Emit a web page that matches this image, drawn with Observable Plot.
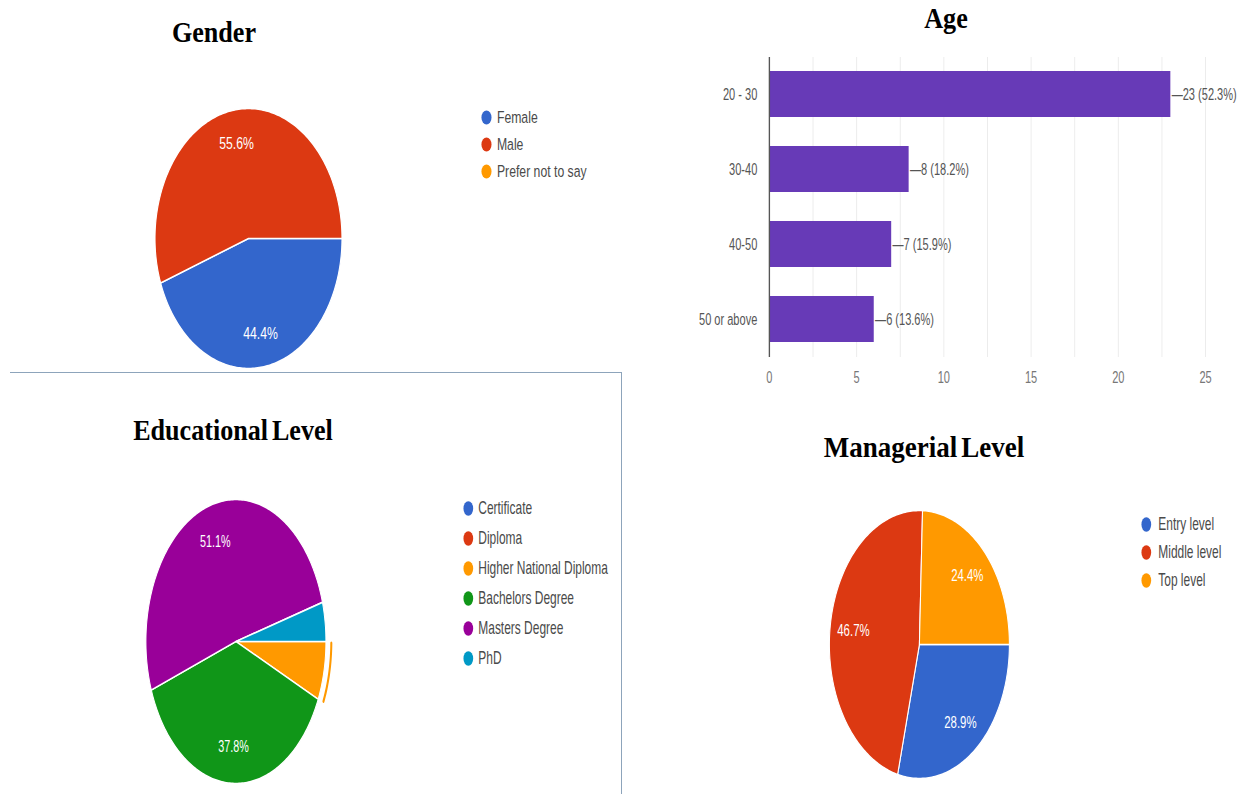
<!DOCTYPE html>
<html><head><meta charset="utf-8">
<script src="https://cdn.jsdelivr.net/npm/d3@7"></script>
<script src="https://cdn.jsdelivr.net/npm/@observablehq/plot@0.6"></script>
<style>
html,body{margin:0;padding:0;background:#fff;}
#root{position:relative;width:1238px;height:794px;overflow:hidden;background:#fff;}
.panel{position:absolute;transform-origin:0 0;}
.title{position:absolute;font-family:"Liberation Serif","Times New Roman",serif;font-weight:bold;font-size:30px;line-height:1;white-space:nowrap;color:#000;transform-origin:50% 0;}
.box{position:absolute;left:10px;top:372px;width:611px;height:440px;border-top:1.5px solid #8da4bb;border-right:1.5px solid #8da4bb;}
.age svg [aria-label^="x-axis"] text{fill:#777;}
.age svg [aria-label^="y-axis"] text{fill:#555;}
</style></head><body><div id="root"></div>
<script>
// ---------- data ----------
const genderCategories = ["Female", "Male", "Prefer not to say"];
const genderCounts = [20, 25, 0];
const genderColors = ["#3366cc", "#dc3912", "#ff9900"];

const ageGroups = ["20 - 30", "30-40", "40-50", "50 or above"];
const ageCounts = [23, 8, 7, 6];
const agePercentLabels = ["52.3%", "18.2%", "15.9%", "13.6%"];
const ageTicks = [0, 5, 10, 15, 20, 25];
const ageGridTicks = [0, 2.5, 5, 7.5, 10, 12.5, 15, 17.5, 20, 22.5, 25];

const eduCategories = ["Certificate", "Diploma", "Higher National Diploma", "Bachelors Degree", "Masters Degree", "PhD"];
const eduCounts = [0, 0, 3, 17, 23, 2];
const eduColors = ["#3366cc", "#dc3912", "#ff9900", "#109618", "#990099", "#0099c6"];

const mgmtCategories = ["Entry level", "Middle level", "Top level"];
const mgmtCounts = [13, 21, 11];
const mgmtColors = ["#3366cc", "#dc3912", "#ff9900"];

// ---------- helpers ----------
const root = document.getElementById("root");
const SANS = '"Liberation Sans", Arial, Helvetica, sans-serif';

function place(node, left, top, sx, cls) {
  const div = document.createElement("div");
  div.className = "panel" + (cls ? " " + cls : "");
  div.style.left = left + "px";
  div.style.top = top + "px";
  div.style.transform = `scaleX(${sx})`;
  div.appendChild(node);
  root.appendChild(div);
  return div;
}

function addTitle(text, cx, top, sx, extra) {
  const d = document.createElement("div");
  d.className = "title";
  d.textContent = text;
  d.style.left = cx + "px";
  d.style.top = top + "px";
  d.style.transform = `translateX(-50%) scaleX(${sx})`;
  if (extra) Object.assign(d.style, extra);
  root.appendChild(d);
}

function slicesOf(cats, vals) {
  const total = d3.sum(vals);
  let a = Math.PI / 2; // first slice starts at 3 o'clock, clockwise
  return cats.map((c, i) => {
    const a0 = a;
    a += (vals[i] / total) * 2 * Math.PI;
    return {cat: c, value: vals[i], pct: vals[i] / total, a0, a1: a};
  });
}

function arcPoints(a0, a1, r, cat) {
  const n = Math.max(2, Math.ceil((a1 - a0) / (Math.PI / 180)));
  const pts = [];
  for (let k = 0; k <= n; ++k) {
    const t = a0 + (a1 - a0) * k / n;
    pts.push({cat, x: r * Math.sin(t), y: r * Math.cos(t)});
  }
  return pts;
}

function piePlot(cats, vals, colors, R, highlightCat) {
  const m = 12;
  const slices = slicesOf(cats, vals);
  const pts = [];
  for (const s of slices) {
    if (s.value <= 0) continue;
    pts.push({cat: s.cat, x: 0, y: 0});
    pts.push(...arcPoints(s.a0, s.a1, 1, s.cat));
    pts.push({cat: s.cat, x: 0, y: 0});
  }
  const marks = [
    Plot.line(pts, {x: "x", y: "y", z: "cat", fill: "cat", stroke: "white", strokeWidth: 1.6, curve: "linear"})
  ];
  if (highlightCat) {
    const h = slices.find(s => s.cat === highlightCat);
    marks.push(Plot.line(arcPoints(h.a0 + 0.01, h.a1 - 0.01, 1.06, h.cat),
      {x: "x", y: "y", stroke: colors[cats.indexOf(h.cat)], strokeWidth: 3.2, curve: "linear"}));
  }
  marks.push(Plot.text(slices.filter(s => s.pct >= 0.1), {
    x: s => 0.74 * Math.sin((s.a0 + s.a1) / 2),
    y: s => 0.74 * Math.cos((s.a0 + s.a1) / 2),
    text: s => (s.pct * 100).toFixed(1) + "%",
    fill: "white", fontSize: 17
  }));
  return Plot.plot({
    width: 2 * R + 2 * m, height: 2 * R + 2 * m, margin: 0,
    x: {domain: [-1, 1], range: [m, m + 2 * R], axis: null},
    y: {domain: [-1, 1], range: [m + 2 * R, m], axis: null},
    color: {domain: cats, range: colors},
    style: {background: "transparent", maxWidth: "none", overflow: "visible", fontFamily: SANS},
    marks
  });
}

function legendPlot(cats, colors, o) {
  return Plot.plot({
    width: o.width, height: o.height, margin: 0,
    x: {domain: [0, 1], range: [0, o.width], axis: null},
    y: {type: "point", domain: cats, range: [o.y0, o.y1], padding: 0, axis: null},
    color: {domain: cats, range: colors},
    style: {background: "transparent", maxWidth: "none", overflow: "visible", fontFamily: SANS},
    marks: [
      Plot.dot(cats, {x: () => 0, y: d => d, fill: d => d, r: o.r, dx: o.dotX}),
      Plot.text(cats, {x: () => 0, y: d => d, text: d => d, textAnchor: "start", dx: o.textX, fill: "#4a4a4a", fontSize: o.fontSize})
    ]
  });
}

// ---------- frame box around the Educational Level panel ----------
const box = document.createElement("div");
box.className = "box";
root.appendChild(box);

// ---------- titles ----------
addTitle("Gender", 214, 17, 0.87);
addTitle("Age", 946, 4, 0.9, {fontSize: "29px"});
addTitle("Educational Level", 233, 415, 0.87, {wordSpacing: "-3px"});
addTitle("Managerial Level", 924, 432, 0.9, {wordSpacing: "-3px"});

// ---------- Gender ----------
{
  const R = 130, c = 93.5 / 130;
  place(piePlot(genderCategories, genderCounts, genderColors, R), 248.5 - (R + 12) * c, 237.5 - R - 12, c);
  const lc = 0.72;
  place(legendPlot(genderCategories, genderColors, {width: 180, height: 85, y0: 12, y1: 66, r: 7, dotX: 8.5, textX: 23, fontSize: 17}), 480, 105, lc);
}

// ---------- Educational Level ----------
{
  const R = 142, c = 90 / 142;
  place(piePlot(eduCategories, eduCounts, eduColors, R, "Higher National Diploma"), 236 - (R + 12) * c, 640.5 - R - 12, c);
  const lc = 0.665;
  place(legendPlot(eduCategories, eduColors, {width: 225, height: 180, y0: 13, y1: 163, r: 7.3, dotX: 12, textX: 27, fontSize: 18}), 460, 495, lc);
}

// ---------- Managerial Level ----------
{
  const R = 134, c = 90 / 134;
  place(piePlot(mgmtCategories, mgmtCounts, mgmtColors, R), 919 - (R + 12) * c, 644 - R - 12, c);
  const lc = 0.665;
  place(legendPlot(mgmtCategories, mgmtColors, {width: 145, height: 90, y0: 18, y1: 75, r: 7.3, dotX: 15, textX: 33, fontSize: 18}), 1136, 505, lc);
}

// ---------- Age ----------
{
  const c = 0.67;
  const ageData = ageGroups.map((g, i) => ({group: g, count: ageCounts[i], pct: agePercentLabels[i]}));
  const plot = Plot.plot({
    width: 818, height: 341,
    marginLeft: 118, marginRight: 49, marginTop: 12, marginBottom: 29,
    x: {domain: [0, 25], ticks: ageTicks, tickSize: 0, tickPadding: 14, label: null},
    y: {type: "band", domain: ageGroups, paddingInner: 0.385, paddingOuter: 0.19, tickSize: 0, tickPadding: 18, label: null},
    style: {background: "transparent", maxWidth: "none", overflow: "visible", fontFamily: SANS, fontSize: "16.5px", color: "#555"},
    marks: [
      Plot.ruleX(ageGridTicks, {stroke: "#ebebeb", strokeWidth: 1.4}),
      Plot.barX(ageData, {x: "count", y: "group", fill: "#673ab7"}),
      Plot.ruleX([0], {stroke: "#555", strokeWidth: 2}),
      Plot.text(ageData, {x: "count", y: "group", text: d => "\u2014" + d.count + " (" + d.pct + ")", textAnchor: "start", dx: 1.5, fill: "#555", fontSize: 16.5})
    ]
  });
  place(plot, 690, 45, c, "age");
}
</script>
</body></html>
